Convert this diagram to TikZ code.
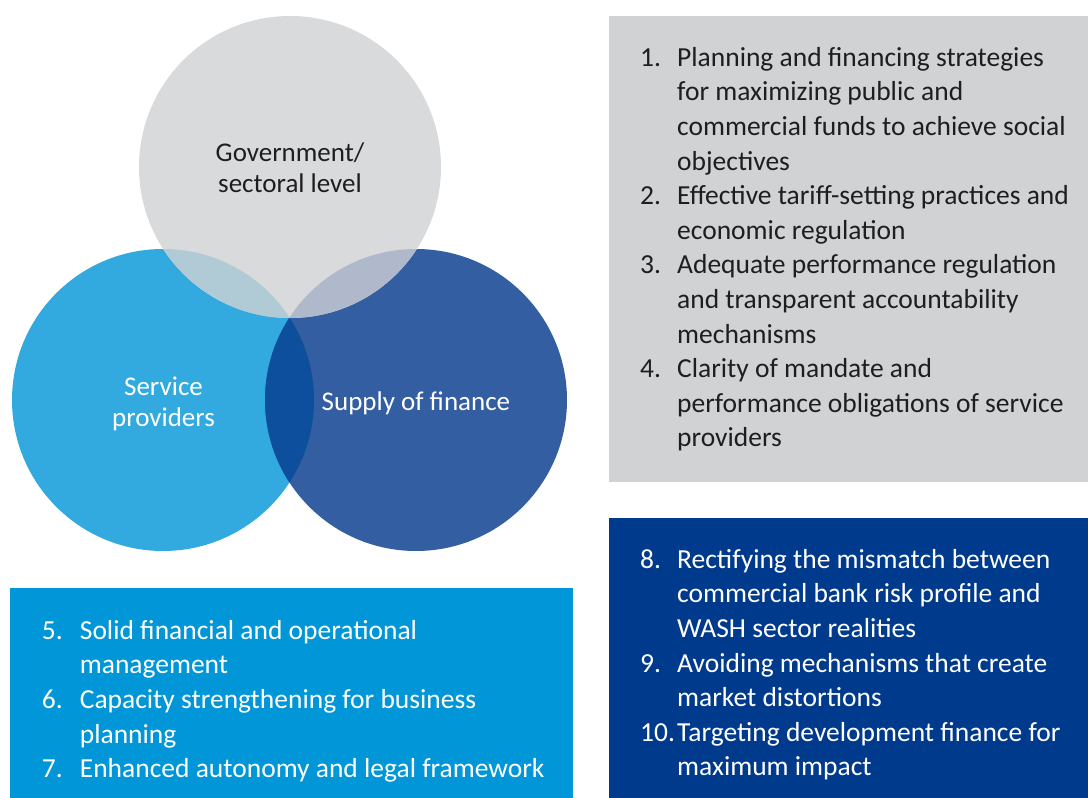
\documentclass[tikz,border=0pt]{standalone}
\usepackage{fontspec}
\setmainfont{Carlito}
\definecolor{govgray}{HTML}{D9DADC}
\definecolor{srvblue}{HTML}{33AADF}
\definecolor{finblue}{HTML}{345EA2}
\definecolor{govsrv}{HTML}{B0CAD6}
\definecolor{govfin}{HTML}{B0B9CB}
\definecolor{srvfin}{HTML}{0D4F9C}
\definecolor{boxgray}{HTML}{D1D2D4}
\definecolor{boxlight}{HTML}{0096D7}
\definecolor{boxdark}{HTML}{003A8C}
\definecolor{ink}{HTML}{1E1E1E}
\tikzset{
	venn/.style={circle, minimum size=302pt, inner sep=0pt},
	circlabel/.style={anchor=base, inner sep=0pt, font=\fontsize{27}{31}\selectfont},
	listtext/.style={anchor=base west, inner sep=0pt, font=\fontsize{27.5}{34.6}\selectfont}
}
\begin{document}
\begin{tikzpicture}[x=1pt, y=-1pt]
		%%%%% START %%%%%
		\useasboundingbox (0,0) rectangle (1088,798);
		
		\node[venn, fill=srvblue] (srv) at (163,400) {};
		\node[venn, fill=finblue] (fin) at (416,400) {};
		\node[venn, fill=govgray] (gov) at (290,167) {};
		
		\begin{scope}
			\clip (srv.center) circle (151pt);
			\fill[srvfin] (fin.center) circle (151pt);
			\fill[govsrv] (gov.center) circle (151pt);
		\end{scope}
		\begin{scope}
			\clip (fin.center) circle (151pt);
			\fill[govfin] (gov.center) circle (151pt);
		\end{scope}
		
		\node[circlabel, text=ink] (govname) at (290,161.7) {\begin{tabular}[t]{@{}c@{}}Government/\\sectoral level\end{tabular}};
		\node[circlabel, text=white] (srvname) at (163.5,395) {\begin{tabular}[t]{@{}c@{}}Service\\providers\end{tabular}};
		\node[circlabel, text=white] (finname) at (416,410) {Supply of finance};
		
		\fill[boxgray] (609,16) rectangle (1088,482);
		\fill[boxlight] (10,588) rectangle (573,798);
		\fill[boxdark] (609,518) rectangle (1088,798);
		
		\node[listtext, text=ink] (govlist) at (640,66.3) {\begin{tabular}[t]{@{}p{37pt}@{}l@{}}
			1. & Planning and financing strategies\\
			& for maximizing public and\\
			& commercial funds to achieve social\\
			& objectives\\
			2. & Effective tariff-setting practices and\\
			& economic regulation\\
			3. & Adequate performance regulation\\
			& and transparent accountability\\
			& mechanisms\\
			4. & Clarity of mandate and\\
			& performance obligations of service\\
			& providers
		\end{tabular}};
		
		\node[listtext, text=white] (srvlist) at (41.7,639.3) {\begin{tabular}[t]{@{}p{38pt}@{}l@{}}
			5. & Solid financial and operational\\
			& management\\
			6. & Capacity strengthening for business\\
			& planning\\
			7. & Enhanced autonomy and legal framework
		\end{tabular}};
		
		\node[listtext, text=white] (finlist) at (640,568.3) {\begin{tabular}[t]{@{}p{37pt}@{}l@{}}
			8. & Rectifying the mismatch between\\
			& commercial bank risk profile and\\
			& WASH sector realities\\
			9. & Avoiding mechanisms that create\\
			& market distortions\\
			10. & Targeting development finance for\\
			& maximum impact
		\end{tabular}};
		
		%%%%% END %%%%%
\end{tikzpicture}
\end{document}
